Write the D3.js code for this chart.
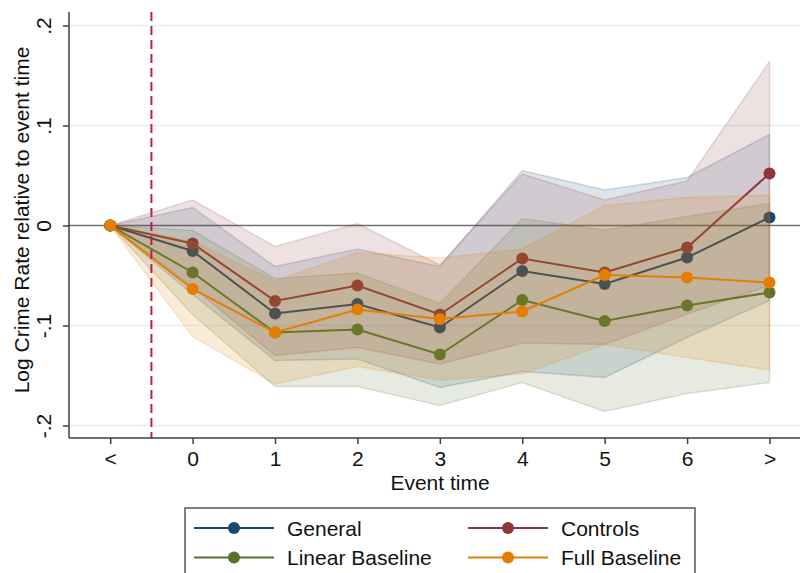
<!DOCTYPE html>
<html>
<head>
<meta charset="utf-8">
<script src="https://cdn.jsdelivr.net/npm/d3@7"></script>
<style>
  html, body { margin: 0; padding: 0; background: #fff; }
  svg { display: block; font-family: Arial, "Liberation Sans", Helvetica, sans-serif; }
</style>
</head>
<body>
<svg id="chart" width="800" height="573"></svg>
<script>
const categories = ["<", "0", "1", "2", "3", "4", "5", "6", ">"];
const yTickValues = [-0.2, -0.1, 0, 0.1, 0.2];
const yTickLabels = ["-.2", "-.1", "0", ".1", ".2"];

const general   = [0, -0.0255, -0.088, -0.0785, -0.102, -0.0455, -0.0585, -0.032, 0.008];
const generalLo = [0, -0.069, -0.135, -0.1335, -0.162, -0.146, -0.152, -0.112, -0.075];
const generalHi = [0, 0.018, -0.041, -0.0235, -0.041, 0.055, 0.0355, 0.048, 0.091];

const controls   = [0, -0.018, -0.0755, -0.060, -0.089, -0.033, -0.047, -0.022, 0.052];
const controlsLo = [0, -0.0615, -0.13, -0.122, -0.1385, -0.1175, -0.119, -0.0885, -0.06];
const controlsHi = [0, 0.0255, -0.021, 0.002, -0.0395, 0.0515, 0.0255, 0.0445, 0.164];

const linear   = [0, -0.047, -0.107, -0.104, -0.129, -0.0745, -0.0955, -0.080, -0.067];
const linearLo = [0, -0.089, -0.161, -0.161, -0.18, -0.157, -0.186, -0.168, -0.157];
const linearHi = [0, -0.005, -0.053, -0.0475, -0.078, 0.007, -0.0045, 0.009, 0.022];

const full   = [0, -0.0635, -0.107, -0.084, -0.0935, -0.086, -0.0495, -0.052, -0.057];
const fullLo = [0, -0.111, -0.1585, -0.141, -0.1545, -0.1485, -0.119, -0.132, -0.1445];
const fullHi = [0, -0.016, -0.0555, -0.027, -0.0325, -0.0235, 0.02, 0.028, 0.0305];

const seriesNames = ["General", "Controls", "Linear Baseline", "Full Baseline"];
const seriesColors = ["#1a476f", "#90353b", "#55752f", "#e37e00"];
const eventLinePos = 0.5; // between "<" and "0"

const series = [
  { name: seriesNames[0], color: seriesColors[0], v: general,  lo: generalLo,  hi: generalHi },
  { name: seriesNames[1], color: seriesColors[1], v: controls, lo: controlsLo, hi: controlsHi },
  { name: seriesNames[2], color: seriesColors[2], v: linear,   lo: linearLo,   hi: linearHi },
  { name: seriesNames[3], color: seriesColors[3], v: full,     lo: fullLo,     hi: fullHi }
];

const svg = d3.select("#chart");
const pL = 69, pR = 800, pT = 12, pB = 438;
const FS = 21;

const x = d3.scaleLinear().domain([-0.5, 8.37]).range([pL, pR]);
const y = d3.scaleLinear().domain([-0.2125, 0.2135]).range([pB, pT]);

// gridlines
svg.append("g").selectAll("line")
  .data(yTickValues.filter(d => d !== 0))
  .join("line")
  .attr("x1", pL).attr("x2", pR)
  .attr("y1", d => y(d)).attr("y2", d => y(d))
  .attr("stroke", "#e9f0f2").attr("stroke-width", 1.5);

// zero line
svg.append("line")
  .attr("x1", pL).attr("x2", pR)
  .attr("y1", y(0)).attr("y2", y(0))
  .attr("stroke", "#707070").attr("stroke-width", 1.6);

const area = d3.area()
  .x((d, i) => x(i))
  .y0(d => y(d[0]))
  .y1(d => y(d[1]));
const line = d3.line().x((d, i) => x(i)).y(d => y(d));

const plot = svg.append("g");
series.forEach(s => {
  const band = s.lo.map((l, i) => [l, s.hi[i]]);
  plot.append("path")
    .attr("d", area(band) + "Z")
    .attr("fill", s.color).attr("fill-opacity", 0.15)
    .attr("stroke", s.color).attr("stroke-opacity", 0.18).attr("stroke-width", 1.5);
  plot.append("path")
    .attr("d", line(s.v))
    .attr("fill", "none").attr("stroke", s.color).attr("stroke-width", 2);
  plot.append("g").selectAll("circle")
    .data(s.v)
    .join("circle")
    .attr("cx", (d, i) => x(i)).attr("cy", d => y(d)).attr("r", 6)
    .attr("fill", s.color);
});

// event dashed line
svg.append("line")
  .attr("x1", x(eventLinePos)).attr("x2", x(eventLinePos))
  .attr("y1", pT).attr("y2", pB)
  .attr("stroke", "#c41e45").attr("stroke-width", 2)
  .attr("stroke-dasharray", "9,5");

// y axis
const yAxis = d3.axisLeft(y).tickValues(yTickValues)
  .tickFormat(d => yTickLabels[yTickValues.indexOf(d)])
  .tickSize(6).tickSizeOuter(0);
const gy = svg.append("g").attr("transform", `translate(${pL},0)`).call(yAxis);
gy.select(".domain").attr("d", `M0,${pT}V${pB}`).attr("stroke", "#404040").attr("stroke-width", 1.5);
gy.selectAll(".tick line").attr("stroke", "#404040").attr("stroke-width", 1.5);
gy.selectAll(".tick text")
  .attr("x", null).attr("dy", null)
  .attr("transform", "translate(-18,0) rotate(-90)")
  .attr("text-anchor", "middle")
  .attr("font-size", FS).attr("fill", "#111");

// x axis
const xAxis = d3.axisBottom(x).tickValues(d3.range(categories.length))
  .tickFormat(i => categories[i]).tickSize(6).tickSizeOuter(0);
const gx = svg.append("g").attr("transform", `translate(0,${pB})`).call(xAxis);
gx.select(".domain").attr("d", `M${pL},0H${pR}`).attr("stroke", "#404040").attr("stroke-width", 1.5);
gx.selectAll(".tick line").attr("stroke", "#404040").attr("stroke-width", 1.5);
gx.selectAll(".tick text").attr("y", 28).attr("dy", null)
  .attr("font-size", FS).attr("fill", "#111");

// axis titles
svg.append("text")
  .attr("transform", `translate(29,220) rotate(-90)`)
  .attr("text-anchor", "middle").attr("font-size", FS).attr("fill", "#111")
  .text("Log Crime Rate relative to event time");
svg.append("text")
  .attr("x", 440).attr("y", 490)
  .attr("text-anchor", "middle").attr("font-size", FS).attr("fill", "#111")
  .text("Event time");

// legend
const lg = svg.append("g");
lg.append("rect").attr("x", 185).attr("y", 508).attr("width", 510).attr("height", 80)
  .attr("fill", "#fff").attr("stroke", "#555").attr("stroke-width", 1.5);
const legPos = [[194, 528], [468, 528], [194, 557.5], [468, 557.5]];
series.forEach((s, k) => {
  const [lx, ly] = legPos[k];
  lg.append("line").attr("x1", lx).attr("x2", lx + 80).attr("y1", ly).attr("y2", ly)
    .attr("stroke", s.color).attr("stroke-width", 2);
  lg.append("circle").attr("cx", lx + 40).attr("cy", ly).attr("r", 6).attr("fill", s.color);
  lg.append("text").attr("x", lx + 93).attr("y", ly + 7.5)
    .attr("font-size", FS).attr("fill", "#111").text(s.name);
});
</script>
</body>
</html>
